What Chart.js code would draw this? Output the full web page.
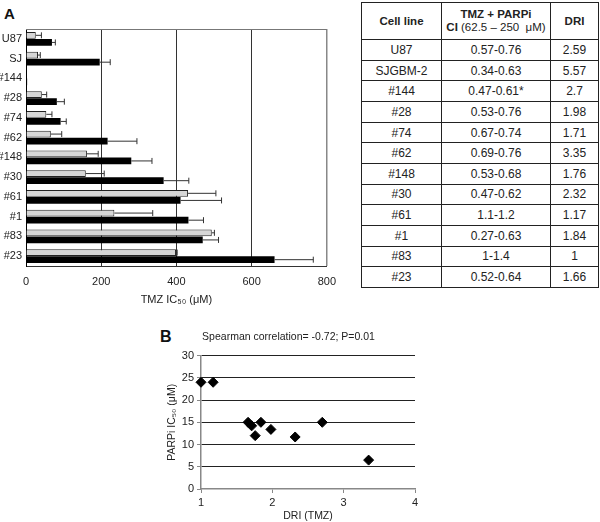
<!DOCTYPE html>
<html>
<head>
<meta charset="utf-8">
<script src="https://cdn.jsdelivr.net/npm/chart.js@4.4.1/dist/chart.umd.min.js"></script>
<style>
  body { margin: 0; background: #fff; font-family: "Liberation Sans", Arial, sans-serif; }
  #page { position: relative; width: 600px; height: 522px; overflow: hidden; }
  .panel { position: absolute; font-weight: bold; color: #111; }
  #boxA { position: absolute; left: 0; top: 0; width: 345px; height: 320px; }
  #boxB { position: absolute; left: 140px; top: 320px; width: 300px; height: 202px; }
  table { position: absolute; left: 361px; top: 2px; width: 238px; height: 286px;
          border-collapse: collapse; font-size: 12px; color: #222; }
  td, th { border: 1.5px solid #222; text-align: center; padding: 0; }
  th { font-size: 11.5px; line-height: 13px; }
  th .sub { font-weight: normal; }
</style>
</head>
<body>
<div id="page">
  <div class="panel" style="left:4px;top:5px;font-size:15px;">A</div>
  <div class="panel" style="left:160px;top:328px;font-size:16px;">B</div>
  <div id="boxA"><canvas id="barChart"></canvas></div>
  <div id="boxB"><canvas id="scatterChart"></canvas></div>
  <table id="ciTable"></table>
</div>
<script>
// Panel A data
const cellLines = ['U87', 'SJ', '#144', '#28', '#74', '#62', '#148', '#30', '#61', '#1', '#83', '#23'];
const grayValues = [26, 32, 1, 42, 54, 66, 162, 159, 431, 235, 494, 399];
const grayErrors = [15, 6, 0, 13, 15, 29, 30, 49, 74, 102, 7, 3];
const blackValues = [69, 196, 3, 82, 92, 217, 280, 366, 411, 432, 470, 661];
const blackErrors = [9, 28, 0, 20, 15, 78, 55, 67, 109, 40, 42, 103];
const xTicksA = [0, 200, 400, 600, 800];

// Table data
const tableLines = ['U87', 'SJGBM-2', '#144', '#28', '#74', '#62', '#148', '#30', '#61', '#1', '#83', '#23'];
const ciRanges = ['0.57-0.76', '0.34-0.63', '0.47-0.61*', '0.53-0.76', '0.67-0.74', '0.69-0.76',
                  '0.53-0.68', '0.47-0.62', '1.1-1.2', '0.27-0.63', '1-1.4', '0.52-0.64'];
const driValues = ['2.59', '5.57', '2.7', '1.98', '1.71', '3.35', '1.76', '2.32', '1.17', '1.84', '1', '1.66'];

// Panel B data
const driX = [1.0, 1.17, 1.66, 1.71, 1.76, 1.84, 1.98, 2.32, 2.7, 3.35];
const parpiY = [24, 24, 15, 14.2, 12, 15, 13.4, 11.7, 15, 6.5];

Chart.defaults.font.family = '"Liberation Sans", Arial, sans-serif';
Chart.defaults.color = '#222';

// build the table
const table = document.getElementById('ciTable');
let html = '<tr><th style="width:79px">Cell line</th>' +
    '<th>TMZ + PARPi<br>CI <span class="sub">(62.5 \u2013 250 &nbsp;\u03bcM)</span></th>' +
    '<th style="width:47px">DRI</th></tr>';
tableLines.forEach((name, i) => {
    html += '<tr><td>' + name + '</td><td>' + ciRanges[i] + '</td><td>' + driValues[i] + '</td></tr>';
});
table.innerHTML = html;

// one-sided error bars and top border
const errorBars = {
    id: 'errorBars',
    afterDatasetsDraw(chart) {
        const ctx = chart.ctx;
        const xs = chart.scales.x;
        ctx.save();
        ctx.strokeStyle = '#333';
        ctx.lineWidth = 1;
        chart.data.datasets.forEach((ds, i) => {
            chart.getDatasetMeta(i).data.forEach((bar, j) => {
                const e = ds.errors[j];
                if (!e) return;
                const x0 = xs.getPixelForValue(ds.data[j]);
                const x1 = xs.getPixelForValue(ds.data[j] + e);
                ctx.beginPath();
                ctx.moveTo(x0, bar.y);
                ctx.lineTo(x1, bar.y);
                ctx.moveTo(x1, bar.y - 3);
                ctx.lineTo(x1, bar.y + 3);
                ctx.stroke();
            });
        });
        const a = chart.chartArea;
        ctx.strokeStyle = '#777';
        ctx.beginPath();
        ctx.moveTo(a.left, a.top + 0.5);
        ctx.lineTo(a.right, a.top + 0.5);
        ctx.stroke();
        ctx.restore();
    }
};

new Chart(document.getElementById('barChart'), {
    type: 'bar',
    data: {
        labels: cellLines,
        datasets: [{
            data: grayValues,
            errors: grayErrors,
            backgroundColor: '#d6d6d6',
            borderColor: '#222',
            borderWidth: 1,
            categoryPercentage: 0.72,
            barPercentage: 0.95
        }, {
            data: blackValues,
            errors: blackErrors,
            backgroundColor: '#000',
            borderWidth: 0,
            categoryPercentage: 0.72,
            barPercentage: 0.95
        }]
    },
    options: {
        indexAxis: 'y',
        responsive: true,
        maintainAspectRatio: false,
        animation: false,
        layout: { padding: { top: 29, right: 17, left: 0, bottom: 0 } },
        plugins: { legend: { display: false }, tooltip: { enabled: false } },
        scales: {
            x: {
                min: 0,
                max: 800,
                afterBuildTicks: s => { s.ticks = xTicksA.map(v => ({ value: v })); },
                afterFit: s => { s.height = 54; },
                grid: {
                    color: c => (c.tick && c.tick.value === 800) ? '#888' : '#333',
                    lineWidth: c => (c.tick && c.tick.value === 800) ? 1.5 : 1,
                    drawTicks: false
                },
                border: { color: '#333' },
                ticks: { padding: 9, font: { size: 11 }, color: '#222' },
                title: {
                    display: true,
                    text: 'TMZ IC\u2085\u2080 (\u03bcM)',
                    font: { size: 11 },
                    color: '#222',
                    padding: { top: 0, bottom: 13 }
                }
            },
            y: {
                afterFit: s => { s.width = 26; },
                grid: { display: false, drawTicks: false, tickLength: 0 },
                border: { color: '#000' },
                ticks: { padding: 4, font: { size: 11 }, color: '#222' }
            }
        }
    },
    plugins: [errorBars]
});

new Chart(document.getElementById('scatterChart'), {
    type: 'scatter',
    data: {
        datasets: [{
            data: driX.map((x, i) => ({ x: x, y: parpiY[i] })),
            pointStyle: 'rectRot',
            radius: 5,
            backgroundColor: '#000',
            borderColor: '#000',
            clip: false
        }]
    },
    options: {
        responsive: true,
        maintainAspectRatio: false,
        animation: false,
        layout: { padding: { top: 0, right: 25, left: 22, bottom: 0 } },
        plugins: {
            legend: { display: false },
            tooltip: { enabled: false },
            title: {
                display: true,
                text: 'Spearman correlation= -0.72; P=0.01',
                font: { size: 10.5, weight: 'normal' },
                color: '#222',
                padding: { top: 11, bottom: 12 }
            }
        },
        scales: {
            x: {
                min: 1,
                max: 4,
                ticks: { stepSize: 1, font: { size: 11 }, color: '#222', padding: 3 },
                afterFit: s => { s.height = 33; },
                grid: { drawOnChartArea: false, tickLength: 4, color: '#888' },
                border: { color: '#888', width: 1.5 },
                title: {
                    display: true,
                    text: 'DRI (TMZ)',
                    font: { size: 10.5 },
                    color: '#222',
                    padding: { top: 0, bottom: 0 }
                }
            },
            y: {
                min: 0,
                max: 30,
                ticks: { stepSize: 5, font: { size: 11 }, color: '#222', padding: 3 },
                afterFit: s => { s.width = 39; },
                grid: {
                    color: c => (c.tick && c.tick.value === 0) ? 'rgba(0,0,0,0)' : '#222',
                    tickColor: '#888',
                    tickLength: 4
                },
                border: { color: '#888', width: 1.5 },
                title: {
                    display: true,
                    text: 'PARPi IC\u2085\u2080 (\u03bcM)',
                    font: { size: 10.5 },
                    color: '#222',
                    padding: { top: 4, bottom: 0 }
                }
            }
        }
    }
});
</script>
</body>
</html>
